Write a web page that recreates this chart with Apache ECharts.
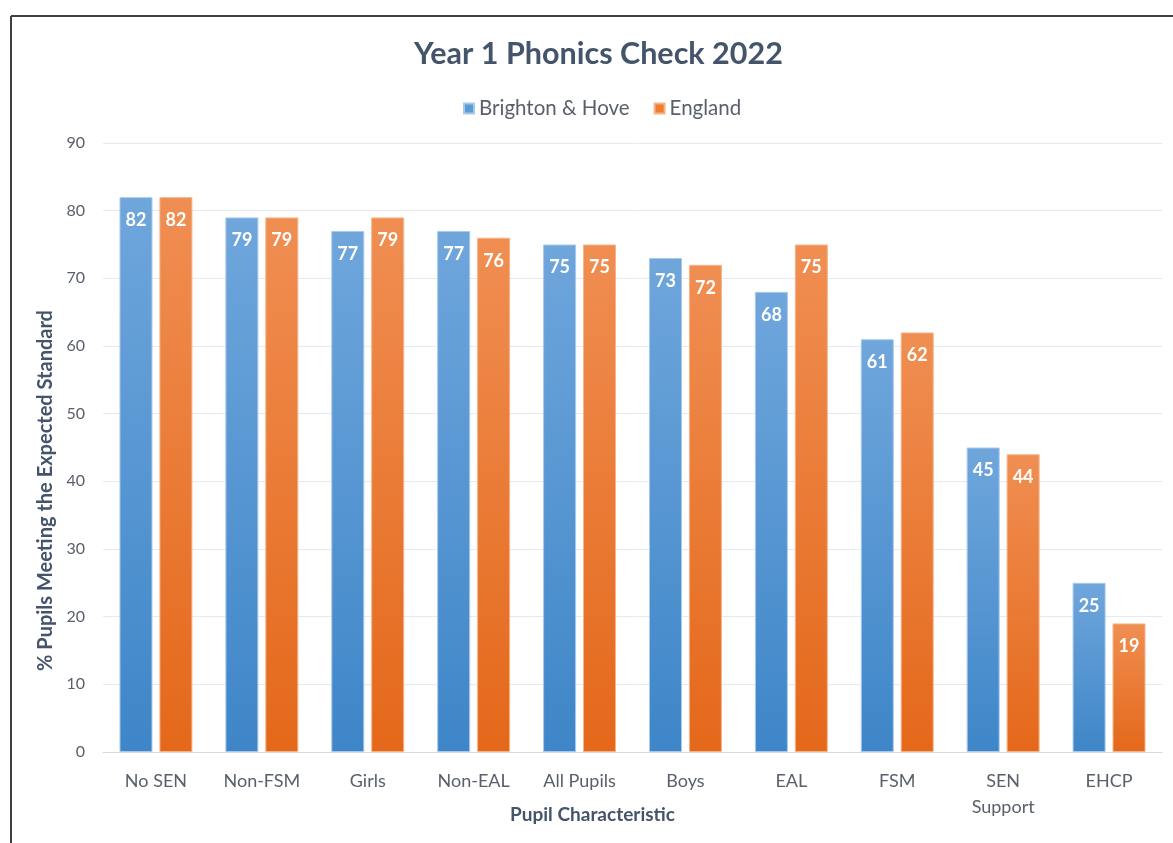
<!DOCTYPE html>
<html><head><meta charset="utf-8">
<script src="https://cdn.jsdelivr.net/npm/echarts@6/dist/echarts.min.js"></script>
<style>html,body{margin:0;padding:0;background:#fff}#c{width:1173px;height:843px}</style>
</head><body><div id="c"></div>
<script>
const categories = ['No SEN','Non-FSM','Girls','Non-EAL','All Pupils','Boys','EAL','FSM','SEN\nSupport','EHCP'];
const brighton = [82,79,77,77,75,73,68,61,45,25];
const england = [82,79,79,76,75,72,75,62,44,19];
const yTicks = [0,10,20,30,40,50,60,70,80,90];

const font = 'Lato, "Open Sans", sans-serif';
const chart = echarts.init(document.getElementById('c'));
function grad(top, bottom){
  return new echarts.graphic.LinearGradient(0,0,0,1,[{offset:0,color:top},{offset:1,color:bottom}]);
}
chart.setOption({
  animation:false,
  backgroundColor:'#fff',
  title:{text:'Year 1 Phonics Check 2022',left:409,top:34,
    textStyle:{fontFamily:font,fontWeight:'bold',fontSize:30.5,color:'#44546a'}},
  legend:{top:93,left:458,itemWidth:10,itemHeight:10,itemGap:24,icon:'rect',
    textStyle:{fontFamily:font,fontSize:20.5,color:'#595f6b'},
    data:[{name:'Brighton & Hove',itemStyle:{color:'#5b9bd5'}},{name:'England',itemStyle:{color:'#ed7d31'}}]},
  grid:{left:103,right:11,top:143,bottom:91,outerBoundsMode:'none'},
  xAxis:{type:'category',data:categories,
    axisLine:{lineStyle:{color:'#d9d9d9'}},axisTick:{show:false},
    axisLabel:{fontFamily:font,fontSize:18,color:'#595f6b',margin:16,lineHeight:26},
    name:'Pupil Characteristic',nameLocation:'middle',nameGap:53,nameMoveOverlap:false,
    nameTextStyle:{fontFamily:font,fontWeight:'bold',fontSize:19,color:'#44546a',padding:[0,80,0,0]}},
  yAxis:{type:'value',min:0,max:90,interval:10,
    axisLine:{show:false},axisTick:{show:false},
    splitLine:{lineStyle:{color:'#e6e9ef'}},
    axisLabel:{fontFamily:font,fontSize:16,color:'#595f6b',margin:18,
      formatter:v=>yTicks.includes(v)?String(v):''},
    name:'% Pupils Meeting the Expected Standard',nameLocation:'middle',nameGap:47,nameMoveOverlap:false,
    nameTextStyle:{fontFamily:font,fontWeight:'bold',fontSize:20,color:'#44546a',padding:[0,86,0,0]}},
  series:[
    {name:'Brighton & Hove',type:'bar',data:brighton,barWidth:33,barGap:'21%',
      itemStyle:{color:grad('#6fa6dc','#3e86c8'),borderColor:'#a9c9ec',borderWidth:1},
      label:{show:true,position:'insideTop',distance:14,fontFamily:font,fontWeight:'bold',fontSize:18,color:'#fff'}},
    {name:'England',type:'bar',data:england,barWidth:33,
      itemStyle:{color:grad('#f08e52','#e4681a'),borderColor:'#f5b48a',borderWidth:1},
      label:{show:true,position:'insideTop',distance:14,fontFamily:font,fontWeight:'bold',fontSize:18,color:'#fff'}}
  ],
  graphic:[
    {type:'line',shape:{x1:11,y1:16,x2:1173,y2:16},style:{stroke:'#404040',lineWidth:2}},
    {type:'line',shape:{x1:11,y1:16,x2:11,y2:843},style:{stroke:'#404040',lineWidth:2}}
  ]
});
</script></body></html>
